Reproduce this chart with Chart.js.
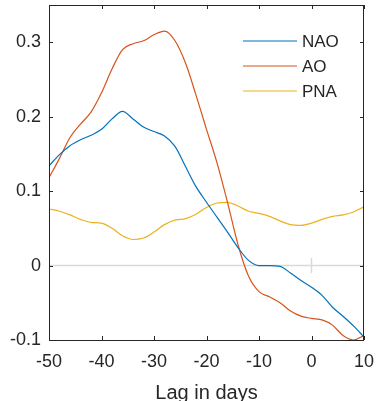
<!DOCTYPE html>
<html>
<head>
<meta charset="utf-8">
<script src="https://cdn.jsdelivr.net/npm/chart.js@4/dist/chart.umd.min.js"></script>
<style>
  html, body { margin: 0; padding: 0; background: #fff; }
</style>
</head>
<body>
<canvas id="lagChart" width="376" height="401"></canvas>
<script>
// lag in days (every 2 days) and correlation values
const lags = [-50, -48, -46, -44, -42, -40, -38, -36, -34, -32, -30, -28, -26, -24, -22, -20,
              -18, -16, -14, -12, -10, -8, -6, -4, -2, 0, 2, 4, 6, 8, 10];
const nao = [0.134, 0.149, 0.161, 0.169, 0.175, 0.183, 0.197, 0.207, 0.197, 0.186, 0.180, 0.174, 0.160, 0.133, 0.106, 0.085,
             0.065, 0.045, 0.024, 0.007, 0.000, 0.000, -0.001, -0.010, -0.020, -0.029, -0.040, -0.056, -0.068, -0.081, -0.096];
const ao = [0.118, 0.144, 0.172, 0.190, 0.206, 0.232, 0.264, 0.290, 0.298, 0.302, 0.310, 0.315, 0.302, 0.272, 0.229, 0.183,
            0.138, 0.085, 0.028, -0.014, -0.035, -0.042, -0.050, -0.061, -0.068, -0.071, -0.073, -0.080, -0.094, -0.100, -0.094];
const pna = [0.076, 0.073, 0.068, 0.062, 0.058, 0.057, 0.050, 0.040, 0.035, 0.037, 0.045, 0.055, 0.061, 0.063, 0.069, 0.078,
             0.084, 0.085, 0.080, 0.073, 0.070, 0.066, 0.060, 0.055, 0.054, 0.057, 0.062, 0.066, 0.068, 0.072, 0.079];
const seriesNames = ['NAO', 'AO', 'PNA'];
const xTicks = [-50, -40, -30, -20, -10, 0, 10];
const yTicks = [-0.1, 0, 0.1, 0.2, 0.3];
// grey reference marks: zero line and the short bar at lag 0
const zeroLine = [[-50, 0], [10, 0]];
const lagZeroMark = [[0, 0.01], [0, -0.01]];

const colors = ['#0072BD', '#D95319', '#EDB120'];
const axisColor = '#262626';
Chart.defaults.font.family = "'Liberation Sans', Arial, Helvetica, sans-serif";

const toPoints = vals => lags.map((l, i) => ({ x: l, y: vals[i] }));
const pairs = arr => arr.map(p => ({ x: p[0], y: p[1] }));
const noPad = s => { s.paddingLeft = 0; s.paddingRight = 0; s.paddingTop = 0; s.paddingBottom = 0; };

// MATLAB-like box with inward ticks on all four sides
const boxPlugin = {
    id: 'boxPlugin',
    afterDatasetsDraw(chart) {
        const { ctx, chartArea: a, scales: { x, y } } = chart;
        const t = 4;
        ctx.save();
        ctx.strokeStyle = axisColor;
        ctx.lineWidth = 1;
        ctx.strokeRect(a.left + 0.5, a.top + 0.5, a.right - a.left - 1, a.bottom - a.top);
        ctx.beginPath();
        xTicks.forEach(v => {
            const px = Math.round(x.getPixelForValue(v)) + 0.5;
            ctx.moveTo(px, a.bottom); ctx.lineTo(px, a.bottom - t);
            ctx.moveTo(px, a.top); ctx.lineTo(px, a.top + t);
        });
        yTicks.forEach(v => {
            const py = Math.round(y.getPixelForValue(v)) + 0.5;
            ctx.moveTo(a.left, py); ctx.lineTo(a.left + t, py);
            ctx.moveTo(a.right, py); ctx.lineTo(a.right - t, py);
        });
        ctx.stroke();
        ctx.restore();
    },
    afterDraw(chart) {
        const { ctx, chartArea: a } = chart;
        ctx.save();
        ctx.font = "17px 'Liberation Sans', Arial, sans-serif";
        ctx.textBaseline = 'middle';
        ctx.fillStyle = axisColor;
        seriesNames.forEach((name, i) => {
            const yy = a.top + 36 + i * 25;
            ctx.strokeStyle = colors[i];
            ctx.lineWidth = 1.2;
            ctx.beginPath();
            ctx.moveTo(a.right - 121, yy);
            ctx.lineTo(a.right - 67, yy);
            ctx.stroke();
            ctx.fillText(name, a.right - 62, yy + 1);
        });
        ctx.restore();
    }
};

const lagChart = new Chart(document.getElementById('lagChart'), {
    type: 'line',
    data: {
        datasets: [
            ...[nao, ao, pna].map((vals, i) => ({
                label: seriesNames[i],
                data: toPoints(vals),
                borderColor: colors[i],
                borderWidth: 1.2,
                pointRadius: 0,
                cubicInterpolationMode: 'monotone'
            })),
            { label: 'zero', data: pairs(zeroLine), borderColor: '#d9d9d9', borderWidth: 1.5, pointRadius: 0 },
            { label: 'lag0', data: pairs(lagZeroMark), borderColor: '#d9d9d9', borderWidth: 1.5, pointRadius: 0 }
        ]
    },
    options: {
        responsive: false,
        animation: false,
        layout: { padding: { top: 5, right: 12, left: 0, bottom: 0 } },
        plugins: { legend: { display: false }, tooltip: { enabled: false } },
        scales: {
            x: {
                type: 'linear',
                min: -50,
                max: 10,
                afterBuildTicks: s => { s.ticks = xTicks.map(v => ({ value: v })); },
                afterFit: s => { s.height = 61; noPad(s); },
                grid: { display: false, drawTicks: false },
                border: { display: false },
                ticks: { color: axisColor, font: { size: 18 }, padding: 11, maxRotation: 0, autoSkip: false },
                title: { display: true, text: 'Lag in days', color: axisColor, font: { size: 20 }, padding: { top: 0, bottom: -4 } }
            },
            y: {
                min: -0.1,
                max: 0.35,
                afterBuildTicks: s => { s.ticks = yTicks.map(v => ({ value: v })); },
                afterFit: s => { s.width = 49; noPad(s); },
                grid: { display: false, drawTicks: false },
                border: { display: false },
                ticks: {
                    color: axisColor,
                    font: { size: 18 },
                    padding: 8,
                    callback: v => (Math.abs(v) < 1e-9 ? '0' : String(Math.round(v * 10) / 10))
                }
            }
        }
    },
    plugins: [boxPlugin]
});
</script>
</body>
</html>
